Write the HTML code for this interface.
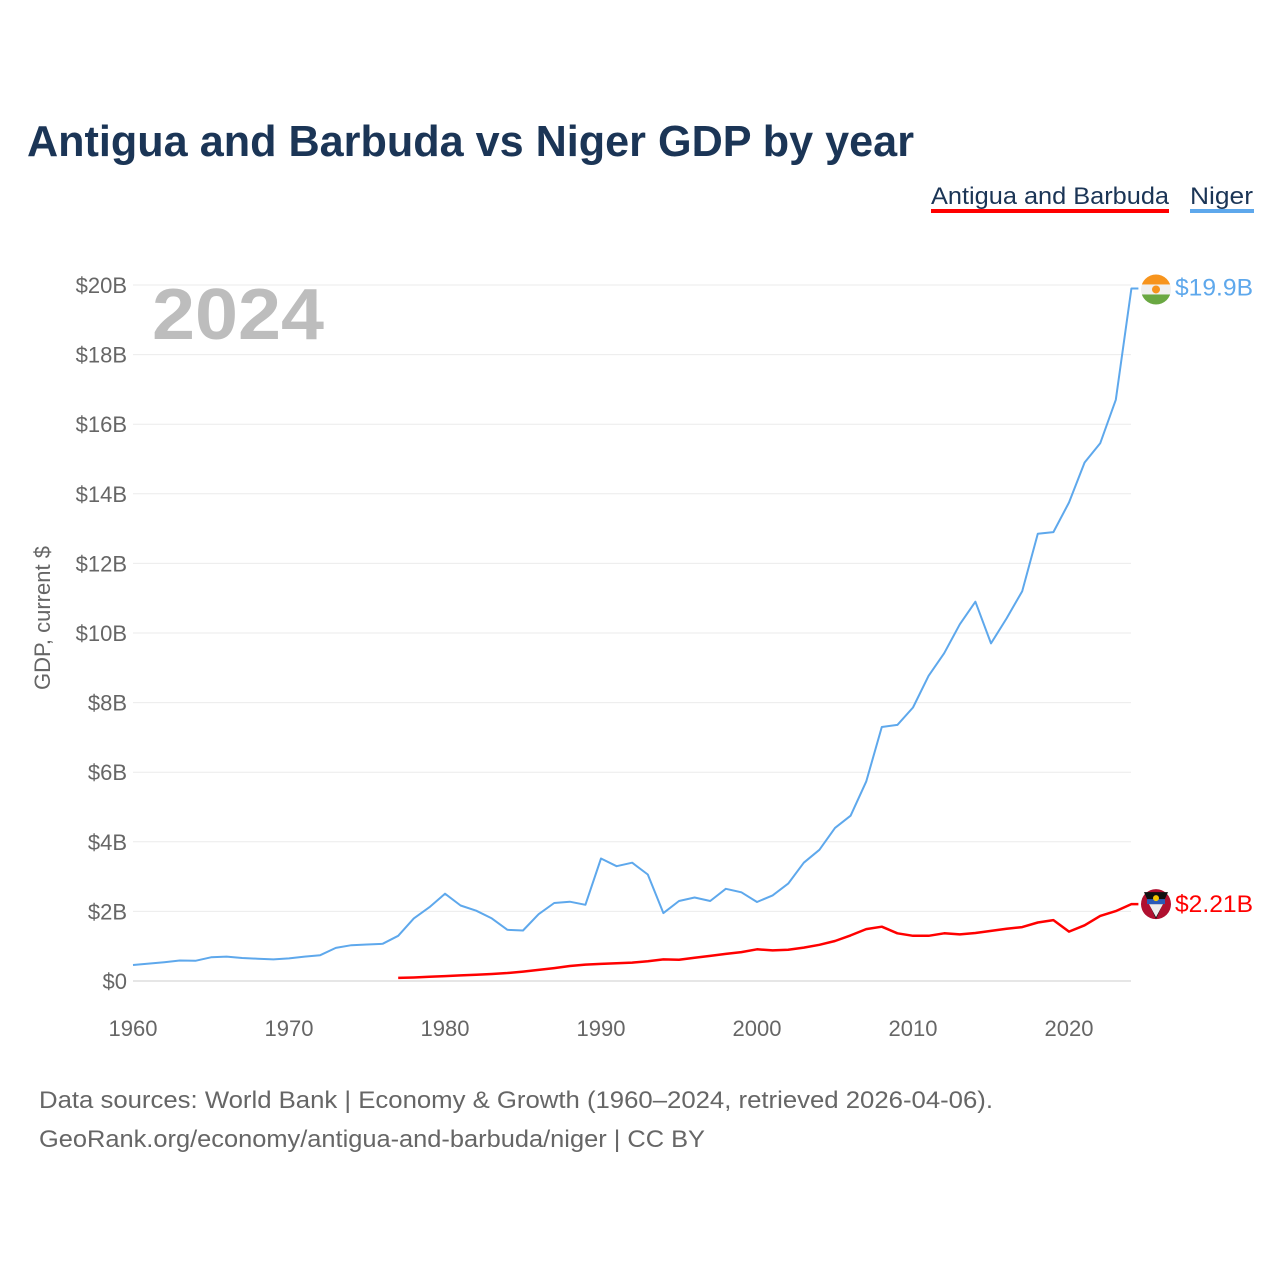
<!DOCTYPE html>
<html><head><meta charset="utf-8"><style>
body{margin:0;background:#fff;font-family:"Liberation Sans",sans-serif;}
svg text{font-family:"Liberation Sans",sans-serif;}
</style></head><body>
<svg id="chart" width="1280" height="1280" xmlns="http://www.w3.org/2000/svg">
<rect width="1280" height="1280" fill="#fff"/>
<text x="27" y="156" font-size="44" font-weight="bold" fill="#1b3556" textLength="887" lengthAdjust="spacingAndGlyphs">Antigua and Barbuda vs Niger GDP by year</text>
<g>
<text x="931" y="204" font-size="24" fill="#1b3556" textLength="238" lengthAdjust="spacingAndGlyphs">Antigua and Barbuda</text>
<rect x="931" y="209" width="238" height="4" fill="#ff0000"/>
</g>
<g>
<text x="1190" y="204" font-size="24" fill="#1b3556" textLength="63" lengthAdjust="spacingAndGlyphs">Niger</text>
<rect x="1190" y="209" width="64" height="4" fill="#5ea8ec"/>
</g>
<text x="152" y="339" font-size="72" font-weight="bold" fill="#bdbdbd" textLength="172" lengthAdjust="spacingAndGlyphs">2024</text>
<text transform="translate(50,618) rotate(-90)" text-anchor="middle" font-size="22" fill="#666">GDP, current $</text>
<g id="grid"></g><g id="xt"></g><g id="series"></g><g id="ends"></g>
<text x="39" y="1108" font-size="24" fill="#666" textLength="954" lengthAdjust="spacingAndGlyphs">Data sources: World Bank | Economy &amp; Growth (1960–2024, retrieved 2026-04-06).</text>
<text x="39" y="1147" font-size="24" fill="#666" textLength="666" lengthAdjust="spacingAndGlyphs">GeoRank.org/economy/antigua-and-barbuda/niger | CC BY</text>
</svg>
<script>
const yTicks=[0,2,4,6,8,10,12,14,16,18,20];
const xTicks=[1960,1970,1980,1990,2000,2010,2020];
const nigerStart=1960;
const nigerValues=[0.46,0.50,0.54,0.59,0.58,0.68,0.70,0.66,0.64,0.62,0.65,0.70,0.74,0.95,1.03,1.05,1.07,1.30,1.80,2.12,2.51,2.17,2.02,1.80,1.47,1.45,1.92,2.24,2.28,2.19,3.52,3.30,3.40,3.06,1.95,2.30,2.40,2.30,2.65,2.55,2.27,2.46,2.80,3.40,3.77,4.40,4.75,5.73,7.30,7.36,7.86,8.77,9.42,10.25,10.90,9.70,10.42,11.20,12.85,12.90,13.75,14.90,15.45,16.70,19.90];
const antiguaStart=1977;
const antiguaValues=[0.09,0.10,0.12,0.14,0.16,0.18,0.20,0.23,0.27,0.32,0.37,0.43,0.47,0.49,0.51,0.53,0.57,0.62,0.61,0.67,0.72,0.78,0.83,0.91,0.88,0.90,0.96,1.04,1.15,1.31,1.49,1.56,1.37,1.30,1.30,1.37,1.34,1.38,1.44,1.50,1.55,1.68,1.75,1.42,1.60,1.87,2.01,2.21];
const X=y=>133+(y-1960)*15.6;
const Y=v=>981-v*34.8;
const NS='http://www.w3.org/2000/svg';
function mk(tag,attrs,parent,txt){const e=document.createElementNS(NS,tag);for(const k in attrs)e.setAttribute(k,attrs[k]);if(txt!==undefined)e.textContent=txt;parent.appendChild(e);return e;}
const grid=document.getElementById('grid');
yTicks.forEach(t=>{
 const l=mk('line',{x1:133,x2:1131,y1:Y(t),y2:Y(t),stroke:t===0?'#e6e6e6':'#ebebeb','stroke-width':t===0?2:1},grid);
 
 
 const tx=mk('text',{x:127,y:Y(t)+8,'text-anchor':'end','font-size':22,fill:'#666'},grid,t===0?'$0':'$'+t+'B');
 
 
});
const xt=document.getElementById('xt');
xTicks.forEach(t=>{
 const tx=mk('text',{x:X(t),y:1036,'text-anchor':'middle','font-size':22,fill:'#666'},xt,String(t));
 
 
});
const ser=document.getElementById('series');
function line(vals,start,color,name){
 const d=vals.map((v,i)=>(i?'L':'M')+X(start+i).toFixed(1)+' '+Y(v).toFixed(1)).join(' ');
 const last=vals[vals.length-1];
 const p=mk('path',{d:d+' L'+(X(start+vals.length-1)+7)+' '+Y(last).toFixed(1),fill:'none',stroke:color,'stroke-width':name==='antigua-line'?2.5:2,'stroke-linejoin':'round'},ser);
 
 
}
line(nigerValues,nigerStart,'#5ea8ec','niger-line');
line(antiguaValues,antiguaStart,'#ff0000','antigua-line');
const ends=document.getElementById('ends');
const nv=nigerValues[nigerValues.length-1], ny=Y(nv);
const nf=mk('g',{},ends);


mk('clipPath',{id:'c1'},nf);mk('circle',{cx:1156,cy:ny+1,r:15},nf.firstChild);
mk('rect',{x:1141,y:ny-14,width:30,height:10,fill:'#f7941d','clip-path':'url(#c1)'},nf);
mk('rect',{x:1141,y:ny-4,width:30,height:10,fill:'#f0f0f0','clip-path':'url(#c1)'},nf);
mk('rect',{x:1141,y:ny+6,width:30,height:10,fill:'#6aa842','clip-path':'url(#c1)'},nf);
mk('circle',{cx:1156,cy:ny+1,r:4,fill:'#f7941d'},nf);
const nl=mk('text',{x:1175,y:ny+7,'font-size':24,fill:'#5ea8ec',textLength:78,lengthAdjust:'spacingAndGlyphs'},ends,'$19.9B');


const av=antiguaValues[antiguaValues.length-1], ay=Y(av);
const af=mk('g',{},ends);


mk('circle',{cx:1156,cy:ay,r:15,fill:'#b01030'},af);
mk('polygon',{points:`1144,${ay-12} 1168,${ay-12} 1156,${ay+15}`,fill:'#111'},af);
mk('polygon',{points:`1149,${ay} 1163,${ay} 1156,${ay+13}`,fill:'#eee'},af);
mk('rect',{x:1147,y:ay-5,width:18,height:5,fill:'#2a5ab8'},af);
mk('circle',{cx:1156,cy:ay-6,r:3,fill:'#f5c400'},af);
const al=mk('text',{x:1175,y:ay+8,'font-size':24,fill:'#ff0000',textLength:78,lengthAdjust:'spacingAndGlyphs'},ends,'$2.21B');


</script>
</body></html>
